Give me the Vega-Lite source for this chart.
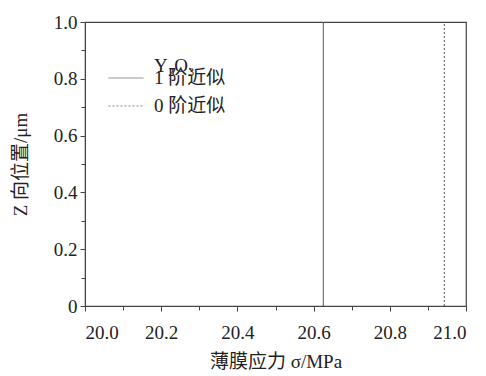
{
  "$schema": "https://vega.github.io/schema/vega-lite/v6.json",
  "width": 381,
  "height": 284,
  "autosize": {"type": "none"},
  "padding": {"left": 85, "top": 22, "right": 20, "bottom": 70},
  "background": "white",
  "config": {
    "view": {"stroke": "#444", "strokeWidth": 1.2},
    "axis": {
      "labelColor": "#222",
      "titleColor": "#222",
      "titleFontWeight": "normal",
      "domainColor": "#444",
      "tickColor": "#444",
      "grid": false
    },
    "legend": {
      "orient": "none",
      "titleFontWeight": "normal",
      "labelFont": "Liberation Serif, Noto Sans CJK SC",
      "labelFontSize": 19,
      "labelColor": "#222",
      "labelOffset": 10,
      "symbolType": "stroke",
      "symbolSize": 1225,
      "symbolStrokeWidth": 1,
      "rowPadding": -9
    }
  },
  "data": {
    "values": [
      {"material": "Y₂O₃", "order": "1 阶近似", "stress": 20.6255, "z": 0},
      {"material": "Y₂O₃", "order": "1 阶近似", "stress": 20.6255, "z": 1},
      {"material": "Y₂O₃", "order": "0 阶近似", "stress": 20.943, "z": 0},
      {"material": "Y₂O₃", "order": "0 阶近似", "stress": 20.943, "z": 1}
    ]
  },
  "resolve": {"axis": {"x": "independent", "y": "independent"}},
  "layer": [
    {
      "mark": {"type": "line", "strokeWidth": 1},
      "encoding": {
        "x": {
          "field": "stress", "type": "quantitative",
          "scale": {"domain": [20, 21], "nice": false, "zero": false},
          "axis": {
            "orient": "bottom",
            "values": [20, 20.2, 20.4, 20.6, 20.8, 21],
            "format": ".1f",
            "tickSize": 5,
            "labelFont": "Liberation Serif",
            "labelFontSize": 19,
            "labelPadding": 12,
            "title": "薄膜应力 σ/MPa",
            "titleFont": "Liberation Serif, Noto Sans CJK SC",
            "titleFontSize": 19,
            "titlePadding": 10
          }
        },
        "y": {
          "field": "z", "type": "quantitative",
          "scale": {"domain": [0, 1], "nice": false},
          "axis": {
            "orient": "left",
            "values": [0, 0.2, 0.4, 0.6, 0.8, 1],
            "labelExpr": "datum.value == 0 ? '0' : format(datum.value, '.1f')",
            "tickSize": 5,
            "labelFont": "Liberation Serif",
            "labelFontSize": 19,
            "labelPadding": 3,
            "title": "Z 向位置/μm",
            "titleFont": "Liberation Serif, Noto Sans CJK SC",
            "titleFontSize": 19,
            "titlePadding": 23
          }
        },
        "detail": {"field": "order"},
        "color": {
          "field": "material", "type": "nominal",
          "scale": {"range": ["#555"]},
          "legend": {
            "title": null,
            "legendX": 23,
            "legendY": 26,
            "symbolOpacity": 0,
            "symbolStrokeColor": "transparent"
          }
        },
        "strokeDash": {
          "field": "order", "type": "nominal",
          "sort": ["1 阶近似", "0 阶近似"],
          "scale": {"domain": ["1 阶近似", "0 阶近似"], "range": [[1, 0], [2, 2]]},
          "legend": {
            "title": null,
            "legendX": 23,
            "legendY": 38,
            "symbolStrokeColor": "#888"
          }
        }
      }
    },
    {
      "mark": {"type": "line", "color": "#555", "strokeWidth": 1, "opacity": 0},
      "encoding": {
        "x": {
          "field": "stress", "type": "quantitative",
          "axis": {
            "orient": "bottom",
            "values": [20.1, 20.3, 20.5, 20.7, 20.9],
            "labels": false, "domain": false, "tickSize": 4, "title": null
          }
        },
        "y": {
          "field": "z", "type": "quantitative",
          "axis": {
            "orient": "left",
            "values": [0.1, 0.3, 0.5, 0.7, 0.9],
            "labels": false, "domain": false, "tickSize": 4, "title": null
          }
        },
        "detail": {"field": "order"}
      }
    }
  ]
}
